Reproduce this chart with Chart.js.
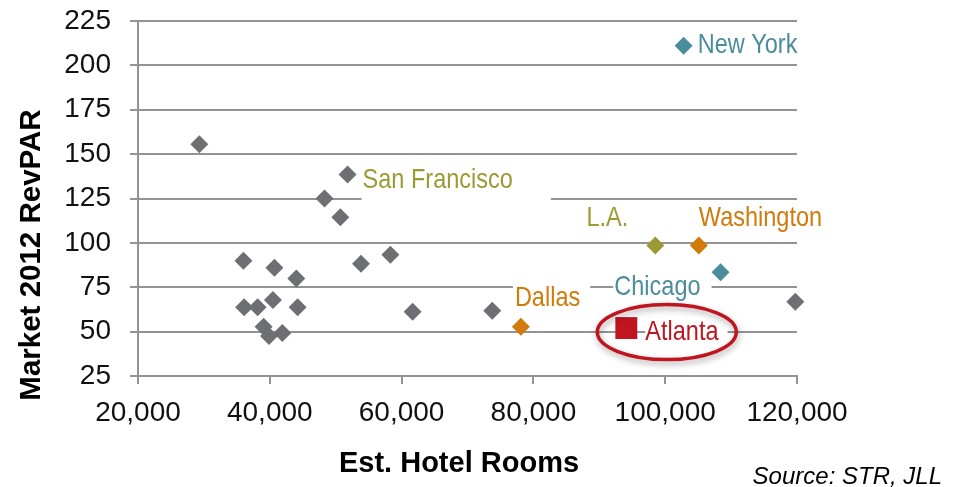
<!DOCTYPE html>
<html>
<head>
<meta charset="utf-8">
<script src="https://cdn.jsdelivr.net/npm/chart.js@4/dist/chart.umd.min.js"></script>
<style>
html, body { margin: 0; padding: 0; background: #fff; }
#wrap { width: 965px; height: 487px; }
</style>
</head>
<body>
<div id="wrap"><canvas id="chart" width="965" height="487"></canvas></div>
<script>
// other US markets (gray diamonds)
let otherRooms  = [29300, 36000, 36100, 38150, 40700, 44020, 40480, 44220, 39060, 39880, 41900, 48300, 50700, 53840, 58300, 61670, 73760, 119740];
let otherRevpar = [155.5, 90, 63.7, 63.7, 86, 80, 67.8, 63.7, 52.7, 47.5, 49.2, 125, 114.4, 88.2, 93.3, 61.2, 61.8, 66.8];

// labelled markets
let marketNames  = ["New York", "San Francisco", "L.A.", "Washington", "Chicago", "Dallas", "Atlanta"];
let marketRooms  = [102800, 51800, 98500, 105100, 108400, 78100, 94100];
let marketRevpar = [211, 138.5, 98.5, 98.5, 83.5, 52.7, 52];

let xTicks = [20000, 40000, 60000, 80000, 100000, 120000];
let yTicks = [25, 50, 75, 100, 125, 150, 175, 200, 225];

let gray = "#6d6f72", teal = "#4b8d9c", olive = "#9b9a33", orange = "#d17b0c", red = "#c0141f";
let gridColor = "#939393";

let pointColors = [teal, gray, olive, orange, teal, orange, red];
let pointStyles = ["rectRot", "rectRot", "rectRot", "rectRot", "rectRot", "rectRot", "rect"];
let pointSizes  = [9, 9, 9, 9, 9, 9, 15.5];

// label placement relative to each point
let labelOpts = [
    { color: teal,   dx: 14,  dy: -2,  align: "left",  padL: 0, padR: 0,  halfH: 0 },
    { color: olive,  dx: 15,  dy: 5,   align: "left",  padL: 1, padR: 38, halfH: 21 },
    { color: olive,  dx: -27, dy: -28, align: "right", padL: 0, padR: 0,  halfH: 0 },
    { color: orange, dx: 0,   dy: -28, align: "left",  padL: 0, padR: 0,  halfH: 0 },
    { color: teal,   dx: -20, dy: 14,  align: "right", padL: 1, padR: 11, halfH: 16 },
    { color: orange, dx: -6,  dy: -30, align: "left",  padL: 2, padR: 10, halfH: 16 },
    { color: red,    dx: 19,  dy: 3,   align: "left",  padL: 0, padR: 9,  halfH: 16 }
];
let labelFont = "28px 'Liberation Sans', Arial, sans-serif";
let labelSqueeze = 0.84;

let labelPlugin = {
    id: "marketLabels",
    beforeDatasetsDraw(chart) {
        let ctx = chart.ctx;
        let meta = chart.getDatasetMeta(1);
        ctx.save();
        ctx.font = labelFont;
        marketNames.forEach((name, i) => {
            let pt = meta.data[i];
            let o = labelOpts[i];
            let w = ctx.measureText(name).width * labelSqueeze;
            let tx = pt.x + o.dx;
            let ty = pt.y + o.dy;
            let left = o.align === "right" ? tx - w : tx;
            if (o.halfH > 0) {
                ctx.fillStyle = "#fff";
                ctx.fillRect(left - o.padL, ty - o.halfH, w + o.padL + o.padR, o.halfH * 2);
            }
            ctx.save();
            ctx.translate(left, ty);
            ctx.scale(labelSqueeze, 1);
            ctx.fillStyle = o.color;
            ctx.textAlign = "left";
            ctx.textBaseline = "middle";
            ctx.fillText(name, 0, 1);
            ctx.restore();
        });
        ctx.restore();
    },
    afterDraw(chart) {
        let ctx = chart.ctx;
        // ring round Atlanta
        let atl = chart.getDatasetMeta(1).data[6];
        ctx.save();
        ctx.shadowColor = "rgba(0,0,0,0.35)";
        ctx.shadowBlur = 6;
        ctx.shadowOffsetX = 1;
        ctx.shadowOffsetY = 3;
        ctx.strokeStyle = red;
        ctx.lineWidth = 3.5;
        ctx.beginPath();
        ctx.ellipse(atl.x + 40.5, atl.y + 4, 69.5, 27.5, 0, 0, Math.PI * 2);
        ctx.stroke();
        ctx.restore();

        // axis titles and source
        ctx.save();
        ctx.fillStyle = "#000";
        ctx.textAlign = "center";
        ctx.textBaseline = "middle";
        ctx.font = "bold 29px 'Liberation Sans', Arial, sans-serif";
        ctx.fillText("Est. Hotel Rooms", 459, 464);
        ctx.font = "bold 29.5px 'Liberation Sans', Arial, sans-serif";
        ctx.translate(31, 255);
        ctx.rotate(-Math.PI / 2);
        ctx.fillText("Market 2012 RevPAR", 0, 1);
        ctx.restore();

        ctx.save();
        ctx.fillStyle = "#000";
        ctx.font = "italic 24px 'Liberation Sans', Arial, sans-serif";
        ctx.textAlign = "right";
        ctx.textBaseline = "middle";
        ctx.fillText("Source: STR, JLL", 942, 477);
        ctx.restore();
    }
};

let chart = new Chart(document.getElementById("chart"), {
    type: "scatter",
    data: {
        datasets: [{
            label: "Other markets",
            data: otherRooms.map((x, i) => ({ x: x, y: otherRevpar[i] })),
            pointStyle: "rectRot",
            pointRadius: 9,
            pointBackgroundColor: gray,
            pointBorderColor: gray,
            pointBorderWidth: 0,
            clip: false
        }, {
            label: "Markets",
            data: marketRooms.map((x, i) => ({ x: x, y: marketRevpar[i] })),
            pointStyle: pointStyles,
            pointRadius: pointSizes,
            pointBackgroundColor: pointColors,
            pointBorderColor: pointColors,
            pointBorderWidth: 0,
            clip: false
        }]
    },
    options: {
        responsive: false,
        animation: false,
        layout: { padding: { left: 0, right: 168, top: 21, bottom: 0 } },
        plugins: {
            legend: { display: false },
            tooltip: { enabled: false }
        },
        scales: {
            x: {
                type: "linear",
                min: xTicks[0],
                max: xTicks[xTicks.length - 1],
                afterBuildTicks: s => { s.ticks = xTicks.map(v => ({ value: v })); },
                afterFit: s => {
                    s.height = 111;
                    s.paddingLeft = 0; s.paddingRight = 0;
                },
                grid: { drawOnChartArea: false, drawTicks: true, tickLength: 8, color: gridColor, lineWidth: 2 },
                border: { display: true, color: gridColor, width: 2 },
                ticks: {
                    padding: 12,
                    color: "#111",
                    font: { family: "'Liberation Sans', Arial, sans-serif", size: 28 },
                    callback: v => v.toLocaleString("en-US")
                }
            },
            y: {
                min: yTicks[0],
                max: yTicks[yTicks.length - 1],
                afterBuildTicks: s => { s.ticks = yTicks.map(v => ({ value: v })); },
                afterFit: s => {
                    s.width = 138;
                    s.paddingTop = 0; s.paddingBottom = 0;
                },
                grid: { drawTicks: true, tickLength: 8, color: gridColor, lineWidth: 2 },
                border: { display: true, color: gridColor, width: 2 },
                ticks: {
                    padding: 19,
                    color: "#111",
                    font: { family: "'Liberation Sans', Arial, sans-serif", size: 28 }
                }
            }
        }
    },
    plugins: [labelPlugin]
});
</script>
</body>
</html>
